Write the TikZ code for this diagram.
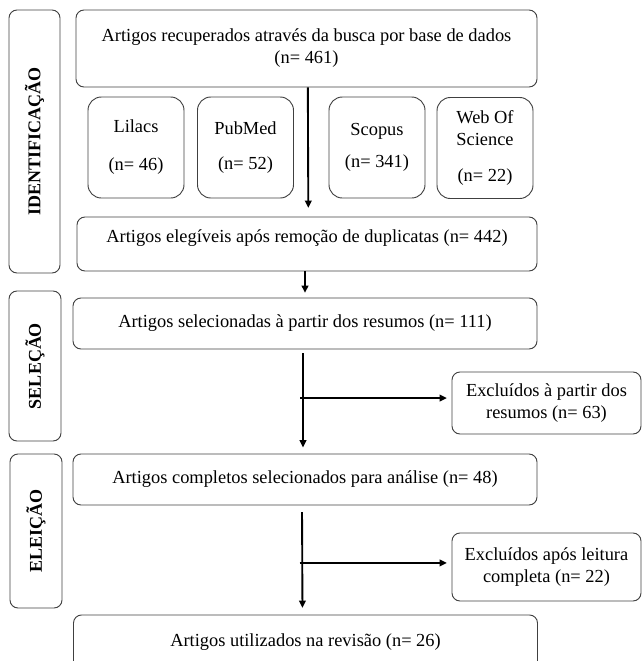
\documentclass[tikz,border=0pt]{standalone}
\usepackage{fontspec}
\setmainfont{Liberation Serif}
\usetikzlibrary{arrows.meta, calc}
\definecolor{edge}{gray}{0.25}
\tikzset{
  stage/.style={
    draw=edge, rounded corners=6pt, line width=0.7pt, rotate=90,
    font=\fontsize{13.5}{15}\selectfont\bfseries, inner sep=0pt
  },
  flowbox/.style={
    draw=edge, rounded corners=6pt, line width=0.7pt,
    minimum width=348pt, minimum height=38.25pt,
    font=\fontsize{13.8}{16.5}\selectfont, align=center, inner sep=2pt
  },
  sourcebox/.style={flowbox, rounded corners=10pt, minimum width=72pt, minimum height=75.75pt},
  exclbox/.style={flowbox, minimum width=141.75pt, minimum height=46.5pt},
  darrow/.style={-{Triangle[length=5.5pt, width=5pt]}, line width=1.4pt}
}
\begin{document}
\begin{tikzpicture}[x=0.75pt, y=-0.75pt]
  \useasboundingbox (0,0) rectangle (642,661);

  % stages on the left
  \node[stage, minimum width=197.25pt, minimum height=38.25pt] (idstage) at (34.5,141.5) {IDENTIFICAÇÃO};
  \node[stage, minimum width=112.5pt, minimum height=39pt] (selstage) at (35,366) {SELEÇÃO};
  \node[stage, minimum width=115.5pt, minimum height=39pt] (elestage) at (36,531) {ELEIÇÃO};

  % identification
  \node[flowbox, minimum width=345.75pt, minimum height=57.75pt] (found) at (306.5,48.5)
    {Artigos recuperados através da busca por base de dados\\(n= 461)};
  \node[sourcebox] (lilacs) at (136,147.5) {Lilacs\\[12pt](n= 46)};
  \node[sourcebox] (pubmed) at (245.5,147.5) {PubMed\\[10pt](n= 52)};
  \node[sourcebox] (scopus) at (377,147.5) {Scopus\\[7pt](n= 341)};
  \node[sourcebox] (wos) at (485,148) {Web Of\\Science\\[10pt](n= 22)};
  \node[flowbox, minimum width=345pt, minimum height=40.5pt] (unique) at (307,244)
    {Artigos elegíveis após remoção de duplicatas (n= 442)\\[-4pt]};

  % selection
  \node[flowbox] (screened) at (305,323.5) {Artigos selecionadas à partir dos resumos (n= 111)};
  \node[exclbox] (excl1) at (546.5,403) {Excluídos à partir dos\\resumos (n= 63)};

  % eligibility
  \node[flowbox] (full) at (305,479.5) {Artigos completos selecionados para análise (n= 48)};
  \node[exclbox, minimum height=51pt] (excl2) at (546.5,567) {Excluídos após leitura\\completa (n= 22)};
  \node[flowbox, minimum height=41.25pt] (included) at (305.5,642.5) {Artigos utilizados na revisão (n= 26)};

  % arrows
  \draw[darrow, shorten >=6.5pt] ([xshift=1pt]found.south) -- ([xshift=1pt]unique.north);
  \draw[darrow, shorten >=3.5pt] (unique.south -| screened.north) -- (screened.north);

  \draw[darrow, shorten <=3pt, shorten >=4.5pt] ([xshift=-1.5pt]screened.south) -- ([xshift=-1.5pt]full.north);
  \coordinate (cut1) at ($([xshift=-1.5pt]screened.south)!0.467!([xshift=-1.5pt]full.north)$);
  \draw[darrow, shorten >=3.5pt] ([xshift=-2pt]cut1) -- (cut1 -| excl1.west);

  \draw[darrow, shorten <=5pt, shorten >=5pt] ([xshift=-2.25pt]full.south) -- ([xshift=-2.25pt]included.north);
  \coordinate (cut2) at ($([xshift=-2.25pt]full.south)!0.527!([xshift=-2.25pt]included.north)$);
  \draw[darrow, shorten >=3.5pt] ([xshift=-2pt]cut2) -- (cut2 -| excl2.west);
\end{tikzpicture}
\end{document}
